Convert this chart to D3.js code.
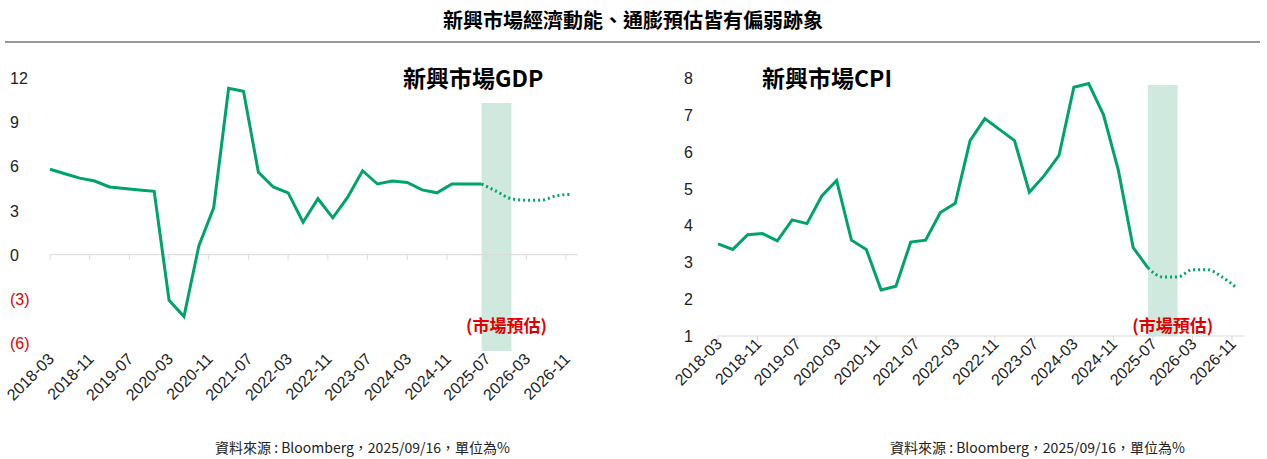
<!DOCTYPE html>
<html><head><meta charset="utf-8">
<script src="https://cdn.jsdelivr.net/npm/d3@7"></script>
<style>body{margin:0;background:#fff;font-family:"Noto Sans CJK TC","Noto Sans",sans-serif}</style>
</head><body><svg id="c" width="1267" height="459"></svg>
<script>
// quarterly points, 2018-03 .. 2025-06 actual, then forecast to 2026-12
const gdpActual = [5.8,5.5,5.2,5.0,4.6,4.5,4.4,4.3,-3.1,-4.2,0.6,3.2,11.3,11.1,5.6,4.6,4.2,2.2,3.8,2.5,3.9,5.7,4.8,5.0,4.9,4.4,4.2,4.8,4.8,4.8];
const gdpForecast = [4.8,4.3,3.8,3.7,3.7,4.0,4.1];
const cpiActual = [3.5,3.35,3.75,3.78,3.58,4.15,4.05,4.8,5.22,3.6,3.35,2.25,2.35,3.55,3.6,4.35,4.6,6.3,6.9,6.6,6.3,4.9,5.35,5.9,7.75,7.85,7.0,5.5,3.4,2.85];
const cpiForecast = [2.85,2.6,2.6,2.8,2.8,2.6,2.3];
const tickLabels = ["2018-03","2018-11","2019-07","2020-03","2020-11","2021-07","2022-03","2022-11","2023-07","2024-03","2024-11","2025-07","2026-03","2026-11"];
const gdpTicks = [12,9,6,3,0,-3,-6];
const cpiTicks = [1,2,3,4,5,6,7,8];

const green = "#00a36c";
const svg = d3.select("#c");
svg.append("text").attr("x",633).attr("y",28).attr("text-anchor","middle")
  .attr("font-size",20).attr("font-weight","bold").text("新興市場經濟動能、通膨預估皆有偏弱跡象");
svg.append("line").attr("x1",5).attr("x2",1260).attr("y1",42).attr("y2",42).attr("stroke","#333");

const mIdx = s => { const [y,m] = s.split("-").map(Number); return (y-2018)*12 + (m-3); };

function panel(o) {
  const x = d3.scaleLinear().domain([0, mIdx("2026-11")]).range([o.x0, o.x1]);
  const y = d3.scaleLinear().domain(o.domain).range(o.range);
  const g = svg.append("g");
  g.append("rect").attr("x", x(mIdx("2025-06"))).attr("width", x(mIdx("2025-12"))-x(mIdx("2025-06")))
    .attr("y", o.bandTop).attr("height", o.bandBottom - o.bandTop).attr("fill","#cfe9df");
  g.append("line").attr("x1",o.x0).attr("x2",o.x1+12).attr("y1",y(o.axisAt)).attr("y2",y(o.axisAt)).attr("stroke","#d9d9d9");
  tickLabels.forEach(t => {
    const xx = x(mIdx(t));
    g.append("line").attr("x1",xx).attr("x2",xx).attr("y1",y(o.axisAt)).attr("y2",y(o.axisAt)+5).attr("stroke","#d9d9d9");
    g.append("text").attr("transform",`translate(${xx+5},${o.labelY}) rotate(-45)`).attr("text-anchor","end")
      .attr("font-size",16).attr("font-family","Liberation Sans, sans-serif").attr("fill","#222").text(t);
  });
  o.ticks.forEach(v => {
    g.append("text").attr("x",o.yLabelX).attr("y",y(v)+6).attr("font-size",16).attr("font-family","Liberation Sans, sans-serif")
      .attr("fill", v < 0 ? "#e00000" : "#222").attr("text-anchor","start")
      .text(v < 0 ? `(${-v})` : v);
  });
  const line = d3.line().x((d,i)=>x(i*3)).y(d=>y(d));
  g.append("path").attr("d", line(o.actual)).attr("fill","none").attr("stroke",green).attr("stroke-width",3);
  const off = o.actual.length - 1;
  const fl = d3.line().x((d,i)=>x((i+off)*3)).y(d=>y(d)).curve(d3.curveMonotoneX);
  g.append("path").attr("d", fl(o.forecast)).attr("fill","none").attr("stroke",green).attr("stroke-width",3).attr("stroke-dasharray","2,3");
  g.append("text").attr("x",o.titleX).attr("y",87).attr("font-size",23).attr("font-weight","bold").text(o.title);
  g.append("text").attr("x",x(mIdx("2025-11"))).attr("y",332).attr("text-anchor","middle")
    .attr("font-size",17).attr("font-weight","bold").attr("fill","#e00000").text("(市場預估)");
  g.append("text").attr("x",o.srcX).attr("y",453).attr("font-size",14).attr("fill","#222")
    .text("資料來源 : Bloomberg，2025/09/16，單位為%");
}

panel({x0:50,x1:566,domain:[-6,12],range:[343,78],axisAt:0,bandTop:103,bandBottom:351,labelY:360,yLabelX:10,
  ticks:gdpTicks,actual:gdpActual,forecast:gdpForecast,title:"新興市場GDP",titleX:403,srcX:215});
panel({x0:718,x1:1232,domain:[1,8],range:[336,78],axisAt:1,bandTop:85,bandBottom:336,labelY:345,yLabelX:684,
  ticks:cpiTicks,actual:cpiActual,forecast:cpiForecast,title:"新興市場CPI",titleX:762,srcX:890});
</script></body></html>
